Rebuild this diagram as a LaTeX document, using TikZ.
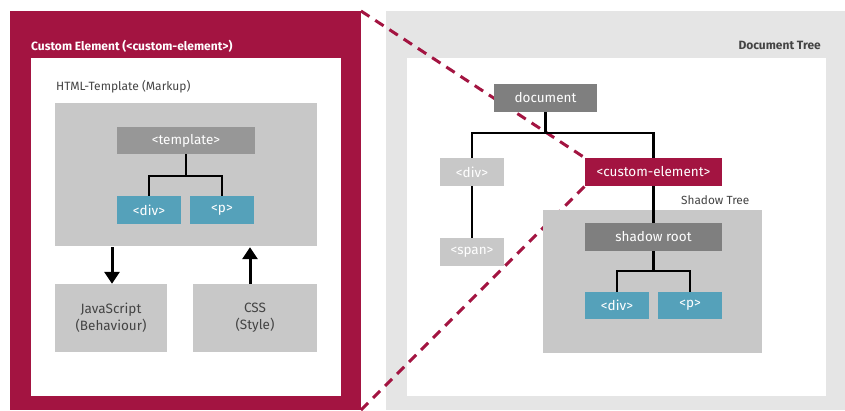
\documentclass[tikz,border=0pt]{standalone}
\usepackage{fontspec}
\setmainfont{Fira Sans}
\usepackage{tikz}
\usetikzlibrary{arrows.meta,backgrounds}
\pgfdeclarelayer{dashes}
\pgfsetlayers{background,dashes,main}

\definecolor{custred}{HTML}{A31441}
\definecolor{panelgray}{HTML}{E5E5E5}
\definecolor{boxgray}{HTML}{C8C8C8}
\definecolor{tplgray}{HTML}{979797}
\definecolor{rootgray}{HTML}{7F7F7F}
\definecolor{teal}{HTML}{55A1BA}
\definecolor{labelgray}{HTML}{444444}

\begin{document}
\begin{tikzpicture}[x=1pt,y=-1pt,
  box/.style={rectangle,inner sep=0pt,text=white,font=\fontsize{13.5}{17}\selectfont},
  heading/.style={inner sep=0pt,font=\fontsize{12}{14}\selectfont},
  tree/.style={line width=2.5pt},
  bigarrow/.style={line width=3pt,-{Triangle[width=15pt,length=12pt]}},
  crimsondash/.style={custred,line width=3pt,dash pattern=on 10pt off 7pt}]
  \useasboundingbox (0,0) rectangle (845,410);

  \coordinate (redtop) at (361,11);
  \coordinate (redbot) at (361,410);

  \node[heading,anchor=west,text=white,font=\fontsize{12}{14}\selectfont\bfseries] (cetitle) at (31,46) {Custom Element (<custom-element>)};
  \node[heading,anchor=west,text=labelgray] (tpltitle) at (56,87) {HTML-Template (Markup)};

  \node[box,fill=boxgray,minimum width=262pt,minimum height=143pt] (tmplbox) at (186,174.5) {};
  \node[box,fill=tplgray,minimum width=138pt,minimum height=27pt] (tmpl) at (186,140.5) {<template>};
  \node[box,fill=teal,minimum width=64pt,minimum height=28pt] (tdiv) at (149,210) {<div>};
  \node[box,fill=teal,minimum width=64pt,minimum height=28pt] (tp) at (222,210) {<p>};
  \node[box,fill=boxgray,text=labelgray,align=center,minimum width=112pt,minimum height=68pt] (js) at (111,318) {JavaScript\\(Behaviour)};
  \node[box,fill=boxgray,text=labelgray,align=center,minimum width=124pt,minimum height=68pt] (css) at (255,318) {CSS\\(Style)};

  \node[heading,anchor=east,text=labelgray,font=\fontsize{12}{14}\selectfont\bfseries] (dttitle) at (821,45) {Document Tree};
  \node[box,fill=rootgray,minimum width=103pt,minimum height=28pt] (doc) at (545.5,98) {document};
  \node[box,fill=boxgray,minimum width=64pt,minimum height=28pt] (ddiv) at (472,172) {<div>};
  \node[box,fill=custred,minimum width=137pt,minimum height=28pt] (custom) at (653.5,172) {<custom-element>};
  \node[box,fill=boxgray,minimum width=64pt,minimum height=28pt] (span) at (472,252) {<span>};
  \node[heading,anchor=west,text=labelgray,font=\fontsize{11.8}{14}\selectfont] (sttitle) at (681,200) {Shadow Tree};
  \node[box,fill=boxgray,minimum width=219pt,minimum height=143pt] (shadowbox) at (652.5,281.5) {};
  \node[box,fill=rootgray,minimum width=137pt,minimum height=28pt] (sroot) at (653.5,237) {shadow root};
  \node[box,fill=teal,minimum width=64pt,minimum height=27pt] (sdiv) at (617,305.5) {<div>};
  \node[box,fill=teal,minimum width=64pt,minimum height=27pt] (sp) at (690,305.5) {<p>};

  \draw[tree] (tmpl.south) -- ++(0,22) coordinate (tfork);
  \draw[tree] (tdiv.north) |- (tfork) -| (tp.north);
  \draw[tree] (doc.south) -- ++(0,21) coordinate (dfork);
  \draw[tree] (ddiv.north) |- (dfork) -| (custom.north);
  \draw[tree] (ddiv.south) -- (span.north);
  \draw[tree] (custom.south) -- (sroot.north);
  \draw[tree] (sroot.south) -- ++(0,20) coordinate (sfork);
  \draw[tree] (sdiv.north) |- (sfork) -| (sp.north);

  \draw[bigarrow] ([xshift=1pt,yshift=-1pt]js.north |- tmplbox.south) -- ([xshift=1pt]js.north);
  \draw[bigarrow] ([xshift=-5pt]css.north) -- ([xshift=-5pt,yshift=-1pt]css.north |- tmplbox.south);

  \begin{pgfonlayer}{dashes}
    \draw[crimsondash] (redtop) -- (custom.north west);
    \draw[crimsondash] (redbot) -- (custom.south west);
  \end{pgfonlayer}

  \begin{pgfonlayer}{background}
    \fill[custred] (10,11) rectangle (361,410);
    \fill[white] (31,58) rectangle (341,396);
    \fill[panelgray] (386,11) rectangle (845,410);
    \fill[white] (407,58) rectangle (826,396);
  \end{pgfonlayer}
\end{tikzpicture}
\end{document}
